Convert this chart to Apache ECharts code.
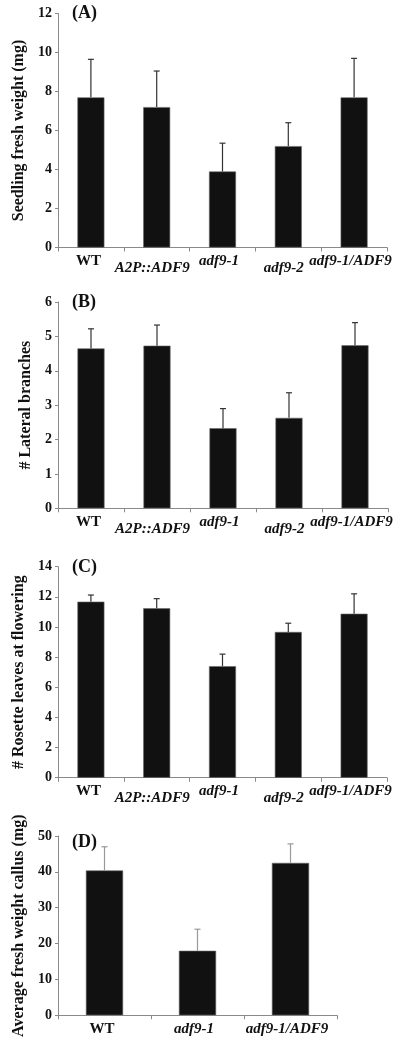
<!DOCTYPE html>
<html>
<head>
<meta charset="utf-8">
<script src="https://cdn.jsdelivr.net/npm/echarts@6/dist/echarts.min.js"></script>
<style>
html,body{margin:0;padding:0;background:#fff;}
#c{width:405px;height:1050px;}
</style>
</head>
<body>
<div id="c"></div>
<script>
// ---- data ----
const categoriesABC = ['WT', 'A2P::ADF9', 'adf9-1', 'adf9-2', 'adf9-1/ADF9'];
const categoriesD = ['WT', 'adf9-1', 'adf9-1/ADF9'];

const seedlingWeight = [7.7, 7.2, 3.9, 5.2, 7.7];
const seedlingWeightErr = [1.95, 1.85, 1.45, 1.2, 2.0];

const lateralBranches = [4.65, 4.73, 2.33, 2.63, 4.74];
const lateralBranchesErr = [0.57, 0.6, 0.57, 0.73, 0.66];

const rosetteLeaves = [11.68, 11.24, 7.4, 9.67, 10.88];
const rosetteLeavesErr = [0.44, 0.64, 0.8, 0.58, 1.32];

const callusWeight = [40.4, 18.0, 42.5];
const callusWeightErr = [6.6, 6.0, 5.3];

const panelLabels = ['(A)', '(B)', '(C)', '(D)'];
const yTitles = ['Seedling fresh weight (mg)', '# Lateral branches', '# Rosette leaves at flowering', 'Average fresh weight callus (mg)'];

// ---- chart ----
const FONT = "'Liberation Serif', 'Times New Roman', serif";
const chart = echarts.init(document.getElementById('c'), null, {renderer: 'canvas'});

const grids = [
  {left: 58, top: 13.5, width: 329, height: 234},
  {left: 58, top: 302, width: 330, height: 206.3},
  {left: 58, top: 566.7, width: 329, height: 211},
  {left: 58, top: 836, width: 279, height: 179.3}
];

const yCfg = [
  {max: 12, interval: 2, gap: 28},
  {max: 6, interval: 1, gap: 22},
  {max: 14, interval: 2, gap: 25},
  {max: 50, interval: 10, gap: 31}
];

const staggered = [false, true, false, true, false];

function xAxisFor(gi, cats, stagger) {
  return {
    type: 'category', gridIndex: gi, data: cats, boundaryGap: true,
    axisLine: {lineStyle: {color: '#8a8a8a', width: 1}},
    axisTick: {show: true, length: 4, lineStyle: {color: '#8a8a8a'}, alignWithLabel: false},
    axisLabel: {
      interval: 0, margin: 6,
      formatter: function (v, idx) {
        const style = v === 'WT' ? 'wt' : (stagger && staggered[idx] ? 'itlo' : 'it');
        return '{' + style + '|' + v + '}';
      },
      rich: {
        wt: {fontFamily: FONT, fontWeight: 'bold', fontSize: 15, color: '#111', padding: [0, 5, 0, 0]},
        it: {fontFamily: FONT, fontWeight: 'bold', fontStyle: 'italic', fontSize: 15, color: '#111', padding: [0, 7, 0, 0]},
        itlo: {fontFamily: FONT, fontWeight: 'bold', fontStyle: 'italic', fontSize: 15, color: '#111', padding: [7, 9, 0, 0]}
      }
    },
    splitLine: {show: false}
  };
}

function yAxisFor(gi) {
  const c = yCfg[gi];
  return {
    type: 'value', gridIndex: gi, min: 0, max: c.max, interval: c.interval,
    name: yTitles[gi], nameLocation: 'middle', nameGap: c.gap, nameRotate: 90,
    nameTextStyle: {fontFamily: FONT, fontWeight: 'bold', fontSize: 16, color: '#111'},
    axisLine: {show: true, lineStyle: {color: '#8a8a8a', width: 1}},
    axisTick: {show: true, length: 3, lineStyle: {color: '#8a8a8a'}},
    axisLabel: {fontFamily: FONT, fontWeight: 'bold', fontSize: 14, color: '#111', margin: 6},
    splitLine: {show: false}
  };
}

function barSeries(gi, values, width) {
  return {
    type: 'bar', xAxisIndex: gi, yAxisIndex: gi, data: values, barWidth: width,
    itemStyle: {color: '#111111', borderColor: '#6a6a6a', borderWidth: 0.6},
    silent: true, z: 2
  };
}

function errSeries(gi, values, errs, color) {
  return {
    type: 'custom', xAxisIndex: gi, yAxisIndex: gi, z: 3, silent: true,
    data: values.map(function (v, i) { return [i, v, errs[i]]; }),
    encode: {x: 0, y: 1},
    renderItem: function (params, api) {
      const i = api.value(0), v = api.value(1), e = api.value(2);
      const p0 = api.coord([i, v]);
      const p1 = api.coord([i, v + e]);
      return {
        type: 'group',
        children: [
          {type: 'line', shape: {x1: p0[0], y1: p0[1], x2: p1[0], y2: p1[1]}, style: {stroke: color, lineWidth: 1.2}},
          {type: 'line', shape: {x1: p1[0] - 3, y1: p1[1], x2: p1[0] + 3, y2: p1[1]}, style: {stroke: color, lineWidth: 1.2}}
        ]
      };
    }
  };
}

const labelPos = [14.5, 303.5, 568.5, 843.5];

chart.setOption({
  animation: false,
  backgroundColor: '#ffffff',
  grid: grids.map(function (g) { return Object.assign({containLabel: false}, g); }),
  xAxis: [
    xAxisFor(0, categoriesABC, true),
    xAxisFor(1, categoriesABC, true),
    xAxisFor(2, categoriesABC, true),
    xAxisFor(3, categoriesD, false)
  ],
  yAxis: [yAxisFor(0), yAxisFor(1), yAxisFor(2), yAxisFor(3)],
  graphic: panelLabels.map(function (t, i) {
    return {
      type: 'text', left: 72, top: labelPos[i] - 10,
      style: {text: t, fontFamily: FONT, fontWeight: 'bold', fontSize: 18, fill: '#111'}
    };
  }),
  series: [
    barSeries(0, seedlingWeight, '41%'),
    errSeries(0, seedlingWeight, seedlingWeightErr, '#333'),
    barSeries(1, lateralBranches, '41%'),
    errSeries(1, lateralBranches, lateralBranchesErr, '#333'),
    barSeries(2, rosetteLeaves, '41%'),
    errSeries(2, rosetteLeaves, rosetteLeavesErr, '#333'),
    barSeries(3, callusWeight, '40%'),
    errSeries(3, callusWeight, callusWeightErr, '#999')
  ]
});
</script>
</body>
</html>
